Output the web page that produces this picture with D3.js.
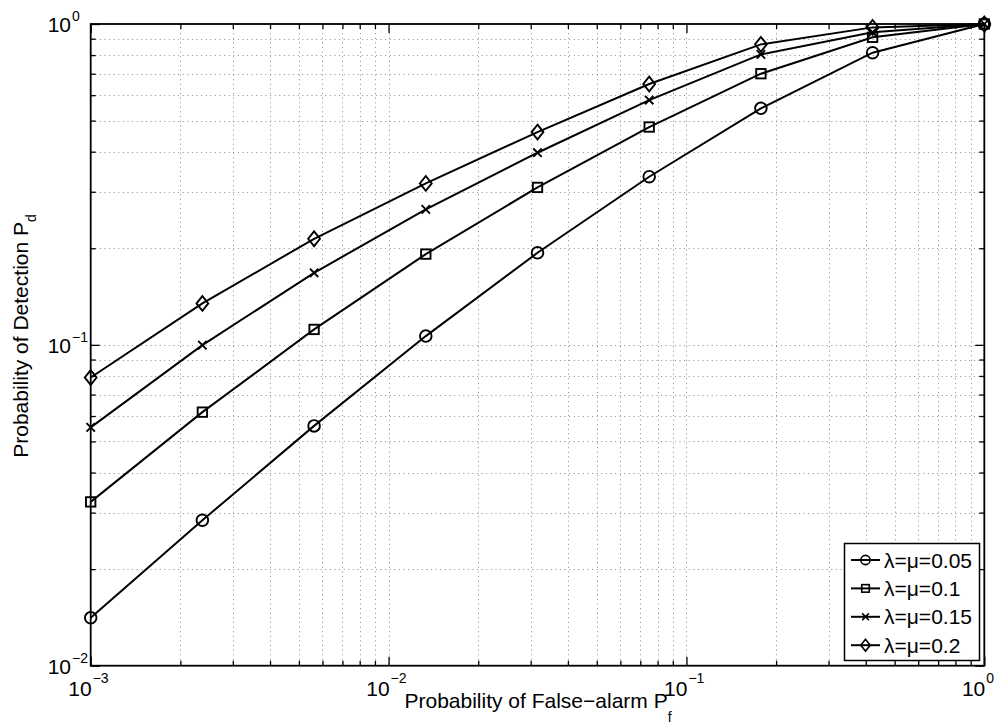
<!DOCTYPE html>
<html>
<head>
<meta charset="utf-8">
<script src="https://cdn.jsdelivr.net/npm/d3@7"></script>
<style>
  html, body { margin: 0; padding: 0; background: #fff; }
  svg { display: block; }
  text { font-family: "Liberation Sans", Arial, Helvetica, sans-serif; fill: #000; }
</style>
</head>
<body>
<svg id="chart" width="1005" height="728"></svg>
<script>
// ---- data ----
const pf = [0.001, 0.002371, 0.005623, 0.013335, 0.031623, 0.074989, 0.177828, 0.421697, 1];
const pd005 = [0.0141, 0.0284, 0.0559, 0.1065, 0.1936, 0.3342, 0.5459, 0.8137, 1];
const pd010 = [0.0324, 0.0617, 0.1117, 0.1918, 0.3095, 0.4774, 0.700, 0.909, 1];
const pd015 = [0.0553, 0.0998, 0.1677, 0.2644, 0.3970, 0.5794, 0.804, 0.942, 1];
const pd020 = [0.0791, 0.1346, 0.2141, 0.3185, 0.4605, 0.650, 0.864, 0.976, 1];
const seriesNames = ["λ=μ=0.05", "λ=μ=0.1", "λ=μ=0.15", "λ=μ=0.2"];
const seriesMarkers = ["circle", "square", "x", "diamond"];
const xMajor = [1e-3, 1e-2, 1e-1, 1];
const xMajorExp = ["−3", "−2", "−1", "0"];
const yMajor = [1e-2, 1e-1, 1];
const yMajorExp = ["−2", "−1", "0"];
const xLabel = "Probability of False−alarm P";
const xLabelSub = "f";
const yLabel = "Probability of Detection P";
const yLabelSub = "d";

const seriesValues = [pd005, pd010, pd015, pd020];

// ---- layout ----
const L = 90.7, R = 984.3, T = 24, B = 665.7;
const FS = 21, SUP = 14;
const svg = d3.select("#chart");
const x = d3.scaleLog().domain([1e-3, 1]).range([L, R]);
const y = d3.scaleLog().domain([1e-2, 1]).range([B, T]);

function minors(lo, hi) {
  const out = [];
  for (let e = Math.log10(lo); e < Math.log10(hi); e++) {
    for (let m = 2; m <= 9; m++) out.push(m * Math.pow(10, e));
  }
  return out;
}
const xMinor = minors(1e-3, 1);
const yMinor = minors(1e-2, 1);

// ---- grid (dotted) ----
const grid = svg.append("g").attr("class", "grid");
const gridStyle = g => g.attr("stroke", "#8a8a8a").attr("stroke-width", 1)
  .attr("stroke-dasharray", "1,3.6").attr("fill", "none");
grid.selectAll("line.gx").data(xMajor.concat(xMinor).filter(v => v > 1e-3 && v < 1)).join("line")
  .attr("class", "gx")
  .attr("x1", d => Math.round(x(d)) + 0.5).attr("x2", d => Math.round(x(d)) + 0.5)
  .attr("y1", T).attr("y2", B).call(gridStyle);
grid.selectAll("line.gy").data(yMajor.concat(yMinor).filter(v => v > 1e-2 && v < 1)).join("line")
  .attr("class", "gy")
  .attr("y1", d => Math.round(y(d)) + 0.5).attr("y2", d => Math.round(y(d)) + 0.5)
  .attr("x1", L).attr("x2", R).call(gridStyle);

// ---- axes with inward ticks on all four sides ----
function styleAxis(g) {
  g.selectAll(".domain").remove();
  g.selectAll(".tick line").attr("stroke", "#000").attr("stroke-width", 1.3);
  g.selectAll(".tick text").remove();
}
const majorLen = 9, minorLen = 5;
svg.append("g").attr("transform", `translate(0,${B})`)
  .call(d3.axisBottom(x).tickValues(xMajor).tickSize(-majorLen).tickFormat("")).call(styleAxis);
svg.append("g").attr("transform", `translate(0,${B})`)
  .call(d3.axisBottom(x).tickValues(xMinor).tickSize(-minorLen).tickFormat("")).call(styleAxis);
svg.append("g").attr("transform", `translate(0,${T})`)
  .call(d3.axisTop(x).tickValues(xMajor).tickSize(-majorLen).tickFormat("")).call(styleAxis);
svg.append("g").attr("transform", `translate(0,${T})`)
  .call(d3.axisTop(x).tickValues(xMinor).tickSize(-minorLen).tickFormat("")).call(styleAxis);
svg.append("g").attr("transform", `translate(${L},0)`)
  .call(d3.axisLeft(y).tickValues(yMajor).tickSize(-majorLen).tickFormat("")).call(styleAxis);
svg.append("g").attr("transform", `translate(${L},0)`)
  .call(d3.axisLeft(y).tickValues(yMinor).tickSize(-minorLen).tickFormat("")).call(styleAxis);
svg.append("g").attr("transform", `translate(${R},0)`)
  .call(d3.axisRight(y).tickValues(yMajor).tickSize(-majorLen).tickFormat("")).call(styleAxis);
svg.append("g").attr("transform", `translate(${R},0)`)
  .call(d3.axisRight(y).tickValues(yMinor).tickSize(-minorLen).tickFormat("")).call(styleAxis);

// box
svg.append("rect").attr("x", L).attr("y", T).attr("width", R - L).attr("height", B - T)
  .attr("fill", "none").attr("stroke", "#000").attr("stroke-width", 1.8);

// ---- tick labels ----
const tl = svg.append("g").attr("class", "ticklabels");
xMajor.forEach((v, i) => {
  const px = x(v);
  tl.append("text").attr("x", px + 1).attr("y", 695.5).attr("text-anchor", "end")
    .attr("font-size", FS).text("10");
  tl.append("text").attr("x", px + 2).attr("y", 683).attr("text-anchor", "start")
    .attr("font-size", SUP).text(xMajorExp[i]);
});
yMajor.forEach((v, i) => {
  const py = y(v);
  tl.append("text").attr("x", 71).attr("y", py + 7.8).attr("text-anchor", "end")
    .attr("font-size", FS).text("10");
  tl.append("text").attr("x", 72).attr("y", py - 3).attr("text-anchor", "start")
    .attr("font-size", SUP).text(yMajorExp[i]);
});

// ---- axis labels ----
const xl = svg.append("text").attr("x", 538).attr("y", 708)
  .attr("text-anchor", "middle").attr("font-size", FS);
xl.append("tspan").text(xLabel);
xl.append("tspan").attr("font-size", SUP).attr("dy", 14).text(xLabelSub);

const yl = svg.append("text")
  .attr("transform", `translate(28,336) rotate(-90)`)
  .attr("text-anchor", "middle").attr("font-size", FS);
yl.append("tspan").text(yLabel);
yl.append("tspan").attr("font-size", SUP).attr("dy", 8).text(yLabelSub);

// ---- markers ----
function drawMarker(g, type, cx, cy, s) {
  if (type === "circle") {
    g.append("circle").attr("cx", cx).attr("cy", cy).attr("r", 5.8 * s);
  } else if (type === "square") {
    const h = 4.7 * s;
    g.append("rect").attr("x", cx - h).attr("y", cy - h).attr("width", 2 * h).attr("height", 2 * h);
  } else if (type === "x") {
    const h = 4.2 * s;
    g.append("path").attr("d", `M${cx - h},${cy - h}L${cx + h},${cy + h}M${cx - h},${cy + h}L${cx + h},${cy - h}`);
  } else if (type === "diamond") {
    const w = 5.9 * s, hh = 7.4 * s;
    g.append("path").attr("d", `M${cx},${cy - hh}L${cx + w},${cy}L${cx},${cy + hh}L${cx - w},${cy}Z`);
  }
}

const line = d3.line().x(d => x(d[0])).y(d => y(d[1]));
const plot = svg.append("g").attr("class", "series");
seriesValues.forEach((vals, si) => {
  const pts = pf.map((p, i) => [p, vals[i]]);
  plot.append("path").datum(pts).attr("d", line)
    .attr("fill", "none").attr("stroke", "#000").attr("stroke-width", 2);
  const mg = plot.append("g").attr("fill", "none").attr("stroke", "#000").attr("stroke-width", 1.9);
  pts.forEach(p => drawMarker(mg, seriesMarkers[si], x(p[0]), y(p[1]), 1));
});

// ---- legend ----
const lg = svg.append("g").attr("class", "legend");
lg.append("rect").attr("x", 844.5).attr("y", 543.5).attr("width", 135).attr("height", 117)
  .attr("fill", "#fff").attr("stroke", "#000").attr("stroke-width", 1.5);
seriesNames.forEach((name, i) => {
  const cy = 560 + i * 28.4;
  lg.append("line").attr("x1", 851).attr("x2", 880).attr("y1", cy).attr("y2", cy)
    .attr("stroke", "#000").attr("stroke-width", 2);
  const mg = lg.append("g").attr("fill", "none").attr("stroke", "#000").attr("stroke-width", 1.6);
  drawMarker(mg, seriesMarkers[i], 865.5, cy, 0.8);
  lg.append("text").attr("x", 884).attr("y", cy + 7.5).attr("font-size", FS).text(name);
});
</script>
</body>
</html>
